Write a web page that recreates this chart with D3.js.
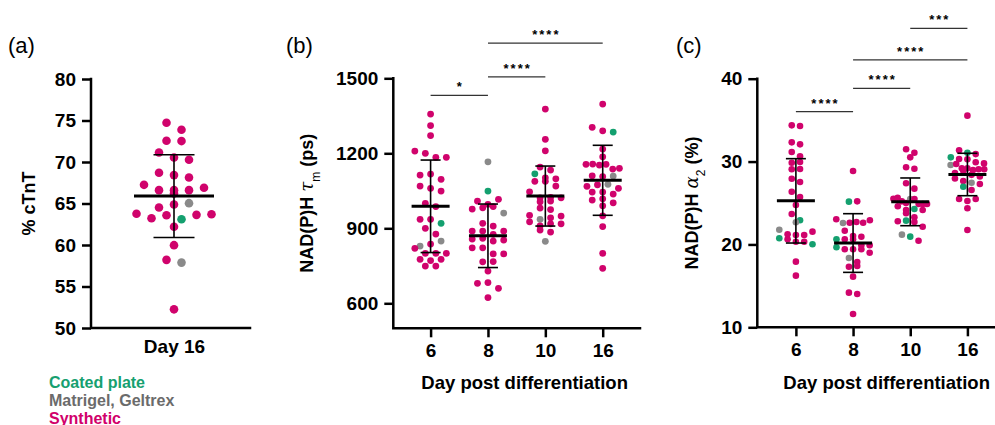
<!DOCTYPE html>
<html>
<head>
<meta charset="utf-8">
<script src="https://cdn.jsdelivr.net/npm/d3@7"></script>
<style>
  body { margin: 0; background: #fff; }
  svg text { font-family: "Liberation Sans", Arial, sans-serif; }
</style>
</head>
<body>
<script>
// source of each point: C = coated plate, M = Matrigel/Geltrex, S = synthetic
// (a) % cTnT, day 16
const aDay16 = [[74.73,"S"],[73.89,"S"],[72.56,"S"],[72.52,"S"],[71.15,"S"],[70.55,"S"],[70.27,"S"],[68.70,"S"],[68.42,"S"],[68.14,"S"],
  [67.25,"S"],[66.21,"S"],[66.61,"S"],[66.61,"S"],[66.61,"S"],[66.89,"S"],[64.52,"S"],[64.88,"S"],[65.04,"M"],[63.76,"S"],
  [63.23,"S"],[63.59,"S"],[63.11,"C"],[63.63,"S"],[63.71,"S"],[62.19,"S"],[59.98,"S"],[58.21,"S"],[57.88,"M"],[52.25,"S"]];

// (b) NAD(P)H tau_m (ps)
const bDay6 = [[1357,"S"],[1311,"S"],[1271,"S"],[1209,"S"],[1200,"S"],[1184,"S"],[1184,"S"],[1113,"S"],[1117,"S"],[1096,"S"],
  [1069,"S"],[1060,"S"],[1049,"S"],[1000,"S"],[987,"S"],[936,"S"],[936,"S"],[920,"C"],[900,"S"],[877,"S"],
  [829,"M"],[837,"S"],[849,"M"],[820,"S"],[800,"S"],[800,"S"],[800,"S"],[776,"S"],[771,"S"],[776,"S"],[749,"S"],[749,"S"]];
const bDay8 = [[1166,"M"],[1049,"C"],[1009,"S"],[996,"S"],[1016,"S"],[977,"S"],[982,"S"],[987,"S"],[961,"M"],[920,"S"],
  [909,"S"],[889,"S"],[889,"S"],[876,"S"],[889,"S"],[857,"S"],[860,"S"],[849,"S"],[853,"S"],[822,"S"],
  [822,"S"],[798,"S"],[798,"S"],[766,"S"],[767,"S"],[729,"S"],[680,"S"],[683,"S"],[660,"S"],[623,"S"]];
const bDay10 = [[1377,"S"],[1256,"S"],[1210,"S"],[1145,"S"],[1133,"S"],[1118,"C"],[1102,"S"],[1088,"S"],[1098,"S"],[1088,"S"],
  [1069,"S"],[1046,"S"],[1022,"S"],[1024,"S"],[1006,"S"],[1009,"S"],[1022,"S"],[981,"S"],[975,"S"],[952,"S"],
  [936,"M"],[942,"S"],[949,"S"],[926,"S"],[910,"S"],[918,"S"],[918,"S"],[893,"S"],[885,"S"],[848,"M"]];
const bDay16 = [[1397,"S"],[1304,"S"],[1290,"S"],[1285,"C"],[1217,"S"],[1186,"S"],[1156,"S"],[1157,"S"],[1153,"S"],[1156,"S"],
  [1137,"S"],[1140,"S"],[1110,"S"],[1107,"S"],[1109,"M"],[1068,"S"],[1074,"S"],[1076,"M"],[1060,"S"],[1045,"S"],
  [1045,"S"],[1037,"S"],[1013,"S"],[1018,"S"],[990,"S"],[1002,"S"],[950,"S"],[907,"S"],[800,"S"],[740,"S"]];

// (c) NAD(P)H alpha_2 (%)
const cDay6 = [[34.37,"S"],[34.29,"S"],[32.32,"S"],[32.08,"S"],[31.15,"S"],[30.63,"S"],[29.86,"S"],[29.95,"S"],[29.07,"S"],[29.10,"S"],
  [27.93,"S"],[27.53,"S"],[26.36,"S"],[25.73,"S"],[24.76,"S"],[23.67,"S"],[22.91,"C"],[22.67,"M"],[21.78,"M"],[21.23,"S"],
  [21.14,"S"],[21.14,"S"],[21.54,"S"],[20.74,"C"],[20.62,"S"],[20.33,"S"],[20.33,"S"],[20.02,"C"],[17.92,"S"],[16.23,"S"]];
const cDay8 = [[28.86,"S"],[25.16,"C"],[25.20,"S"],[23.03,"S"],[22.59,"M"],[22.62,"S"],[22.70,"S"],[22.62,"S"],[22.91,"S"],[21.66,"S"],
  [21.02,"S"],[20.93,"S"],[20.62,"C"],[20.62,"S"],[20.62,"S"],[19.90,"S"],[19.90,"S"],[19.66,"C"],[19.41,"S"],[19.41,"S"],
  [19.41,"S"],[19.00,"S"],[18.36,"M"],[17.88,"S"],[17.31,"S"],[17.40,"S"],[16.11,"S"],[14.18,"S"],[14.02,"S"],[11.61,"S"]];
const cDay10 = [[31.48,"S"],[31.07,"S"],[30.51,"S"],[29.31,"S"],[29.14,"S"],[27.38,"S"],[26.73,"S"],[25.52,"S"],[25.64,"S"],[25.20,"S"],
  [25.00,"S"],[25.48,"M"],[25.48,"S"],[24.88,"S"],[24.88,"S"],[24.60,"S"],[24.88,"S"],[24.16,"S"],[24.28,"C"],[24.16,"S"],
  [23.76,"S"],[23.27,"S"],[22.79,"S"],[22.87,"C"],[22.71,"S"],[22.14,"S"],[21.18,"M"],[20.94,"C"],[20.45,"S"]];
const cDay16 = [[35.54,"S"],[31.36,"S"],[31.07,"C"],[30.90,"S"],[30.51,"C"],[30.31,"S"],[30.27,"S"],[29.91,"S"],[29.59,"M"],[29.70,"S"],
  [29.78,"S"],[29.19,"S"],[29.19,"S"],[28.98,"S"],[28.60,"S"],[28.90,"S"],[29.07,"S"],[29.07,"S"],[28.40,"S"],[28.20,"S"],
  [27.95,"S"],[27.65,"S"],[27.45,"M"],[27.30,"S"],[26.97,"C"],[26.57,"S"],[25.48,"S"],[25.24,"S"],[25.48,"S"],[24.36,"S"],[21.74,"S"]];

// mean and SD per group
const aMean = [65.89], aSD = [4.98];
const bMean = [988, 870, 1029, 1092], bSD = [185, 127, 120, 140];
const cMean = [25.26, 20.17, 25.14, 28.44], cSD = [5.09, 3.54, 2.88, 2.56];

const aCats = ["Day 16"];
const dayCats = ["6", "8", "10", "16"];
const aTicks = [50, 55, 60, 65, 70, 75, 80];
const bTicks = [600, 900, 1200, 1500];
const cTicks = [10, 20, 30, 40];

// significance brackets: from, to, label, height (data units)
const bSig = [["6", "8", "*", 1432], ["8", "10", "****", 1506], ["8", "16", "****", 1641]];
const cSig = [["6", "8", "****", 36.02], ["8", "10", "****", 38.84], ["8", "16", "****", 42.26], ["10", "16", "***", 46.08]];

const legendItems = [
  { name: "Coated plate", color: "#16a070" },
  { name: "Matrigel, Geltrex", color: "#6b6b6b" },
  { name: "Synthetic", color: "#d1006b" }
];

const colors = { C: "#14a06f", M: "#8a8a8a", S: "#d0036c" };

const width = 995, height = 425;
const svg = d3.select("body").append("svg")
  .attr("width", width)
  .attr("height", height);

// Prism-like scatter: group values into rows and spread each row symmetrically
function swarm(points, y, cx, spacing, maxHalf, binH) {
  const pts = points.map((d, i) => ({ v: d[0], src: d[1], i: i, y: y(d[0]) }))
    .sort((a, b) => a.y - b.y);
  const rows = [];
  let row = null;
  pts.forEach(p => {
    if (!row || p.y - row[0].y >= binH) { row = [p]; rows.push(row); }
    else row.push(p);
  });
  rows.forEach(rw => {
    rw.sort((a, b) => a.i - b.i);
    const n = rw.length;
    const s = n > 1 ? Math.min(spacing, 2 * maxHalf / (n - 1)) : 0;
    rw.forEach((p, k) => { p.x = cx + (k - (n - 1) / 2) * s; });
  });
  return pts.sort((a, b) => a.i - b.i);
}

function drawPanel(p) {
  const g = svg.append("g");
  const y = d3.scaleLinear().domain(p.yDomain).range([p.bottom, p.top]);
  const x = d3.scalePoint().domain(p.cats).range(p.xRange).padding(p.pad);

  p.groups.forEach((grp, gi) => {
    const pts = swarm(grp, y, x(p.cats[gi]), p.spacing, p.maxHalf, p.binH);
    g.append("g").selectAll("circle")
      .data(pts)
      .join("circle")
        .attr("cx", d => d.x)
        .attr("cy", d => d.y)
        .attr("r", p.r)
        .attr("fill", d => colors[d.src]);
  });

  // mean +/- SD
  const stats = g.append("g").attr("stroke", "#000");
  p.cats.forEach((c, i) => {
    const cx = x(c), m = p.mean[i], s = p.sd[i];
    stats.append("line").attr("x1", cx).attr("x2", cx).attr("y1", y(m - s)).attr("y2", y(m + s)).attr("stroke-width", 1.6);
    [m - s, m + s].forEach(v => {
      stats.append("line").attr("x1", cx - p.capHalf).attr("x2", cx + p.capHalf)
        .attr("y1", y(v)).attr("y2", y(v)).attr("stroke-width", 1.6);
    });
    stats.append("line").attr("x1", cx - p.meanHalf).attr("x2", cx + p.meanHalf)
      .attr("y1", y(m)).attr("y2", y(m)).attr("stroke-width", 3);
  });

  // axes
  g.append("g")
    .attr("transform", `translate(${p.left},0)`)
    .call(d3.axisLeft(y).tickValues(p.yTicks).tickFormat(d3.format("d")).tickSize(9).tickPadding(6).tickSizeOuter(0))
    .call(a => a.select(".domain").remove())
    .call(a => a.selectAll("line").attr("stroke", "#000").attr("stroke-width", 2.5))
    .call(a => a.selectAll("text").attr("font-size", 19).attr("font-weight", "bold").attr("fill", "#000"));

  g.append("g")
    .attr("transform", `translate(0,${p.bottom})`)
    .call(d3.axisBottom(x).tickSize(p.xTickSize).tickPadding(p.xTickPad).tickSizeOuter(0))
    .call(a => a.select(".domain").remove())
    .call(a => a.selectAll("line").attr("stroke", "#000").attr("stroke-width", 2.5))
    .call(a => a.selectAll("text").attr("font-size", p.xFont).attr("font-weight", "bold").attr("fill", "#000"));

  g.append("path")
    .attr("d", `M${p.left},${p.top}V${p.bottom}H${p.xEnd}`)
    .attr("fill", "none")
    .attr("stroke", "#000")
    .attr("stroke-width", 2.5)
    .attr("stroke-linecap", "square");

  // significance brackets
  (p.sig || []).forEach(s => {
    const yy = y(s[3]);
    g.append("line").attr("x1", x(s[0])).attr("x2", x(s[1])).attr("y1", yy).attr("y2", yy)
      .attr("stroke", "#333").attr("stroke-width", 1.3);
    g.append("text")
      .attr("x", (x(s[0]) + x(s[1])) / 2 + 1)
      .attr("y", yy - 4)
      .attr("text-anchor", "middle")
      .style("font-size", "13px")
      .style("font-weight", "bold")
      .style("letter-spacing", "2px")
      .text(s[2]);
  });

  // y title
  const yt = g.append("text")
    .attr("transform", `translate(${p.yTitleX},${(p.top + p.bottom) / 2}) rotate(-90)`)
    .attr("text-anchor", "middle")
    .style("font-size", "18px")
    .style("font-weight", "bold");
  p.yTitle(yt);

  if (p.xTitle) {
    g.append("text")
      .attr("x", (p.left + p.xEnd) / 2 + 8)
      .attr("y", 389)
      .attr("text-anchor", "middle")
      .style("font-size", "18.5px")
      .style("font-weight", "bold")
      .text(p.xTitle);
  }

  g.append("text")
    .attr("x", p.labelX)
    .attr("y", 53)
    .style("font-size", "22px")
    .text(p.label);
}

drawPanel({
  label: "(a)", labelX: 8,
  cats: aCats, groups: [aDay16], mean: aMean, sd: aSD,
  yDomain: [50, 80], yTicks: aTicks, top: 79, bottom: 328,
  left: 91, xEnd: 250, xRange: [98, 250], pad: 0.5,
  r: 4.3, spacing: 15, maxHalf: 38, binH: 8.5,
  meanHalf: 40, capHalf: 20.5,
  xTickSize: 0, xTickPad: 12, xFont: 19,
  yTitleX: 35,
  yTitle: t => t.text("% cTnT")
});

drawPanel({
  label: "(b)", labelX: 286,
  cats: dayCats, groups: [bDay6, bDay8, bDay10, bDay16], mean: bMean, sd: bSD,
  yDomain: [500, 1500], yTicks: bTicks, top: 78.3, bottom: 328.3,
  left: 393.3, xEnd: 640, xRange: [393.3, 640], pad: 0.65,
  r: 3.4, spacing: 10.5, maxHalf: 16.7, binH: 6.5,
  meanHalf: 19, capHalf: 10,
  xTickSize: 9, xTickPad: 6, xFont: 19,
  sig: bSig,
  yTitleX: 313,
  yTitle: t => {
    t.append("tspan").text("NAD(P)H ");
    t.append("tspan").style("font-style", "italic").style("font-family", "'DejaVu Serif', serif").style("font-weight", "normal").text("τ");
    t.append("tspan").attr("baseline-shift", "sub").style("font-size", "12px").style("font-weight", "normal").text("m");
    t.append("tspan").text(" (ps)");
  },
  xTitle: "Day post differentiation"
});

drawPanel({
  label: "(c)", labelX: 676,
  cats: dayCats, groups: [cDay6, cDay8, cDay10, cDay16], mean: cMean, sd: cSD,
  yDomain: [10, 40], yTicks: cTicks, top: 78.7, bottom: 327.3,
  left: 757.3, xEnd: 1000, xRange: [757.3, 1006], pad: 0.675,
  r: 3.3, spacing: 8.3, maxHalf: 16.8, binH: 6.5,
  meanHalf: 19, capHalf: 10,
  xTickSize: 9, xTickPad: 6, xFont: 19,
  sig: cSig,
  yTitleX: 698,
  yTitle: t => {
    t.append("tspan").text("NAD(P)H ");
    t.append("tspan").style("font-style", "italic").style("font-family", "'DejaVu Serif', serif").style("font-weight", "normal").text("α");
    t.append("tspan").attr("baseline-shift", "sub").style("font-size", "12px").style("font-weight", "normal").text("2");
    t.append("tspan").text(" (%)");
  },
  xTitle: "Day post differentiation"
});

// legend
svg.append("g")
  .selectAll("text")
  .data(legendItems)
  .join("text")
    .attr("x", 49)
    .attr("y", (d, i) => 388 + i * 18)
    .attr("fill", d => d.color)
    .style("font-size", "16px")
    .style("font-weight", "bold")
    .text(d => d.name);
</script>
</body>
</html>
